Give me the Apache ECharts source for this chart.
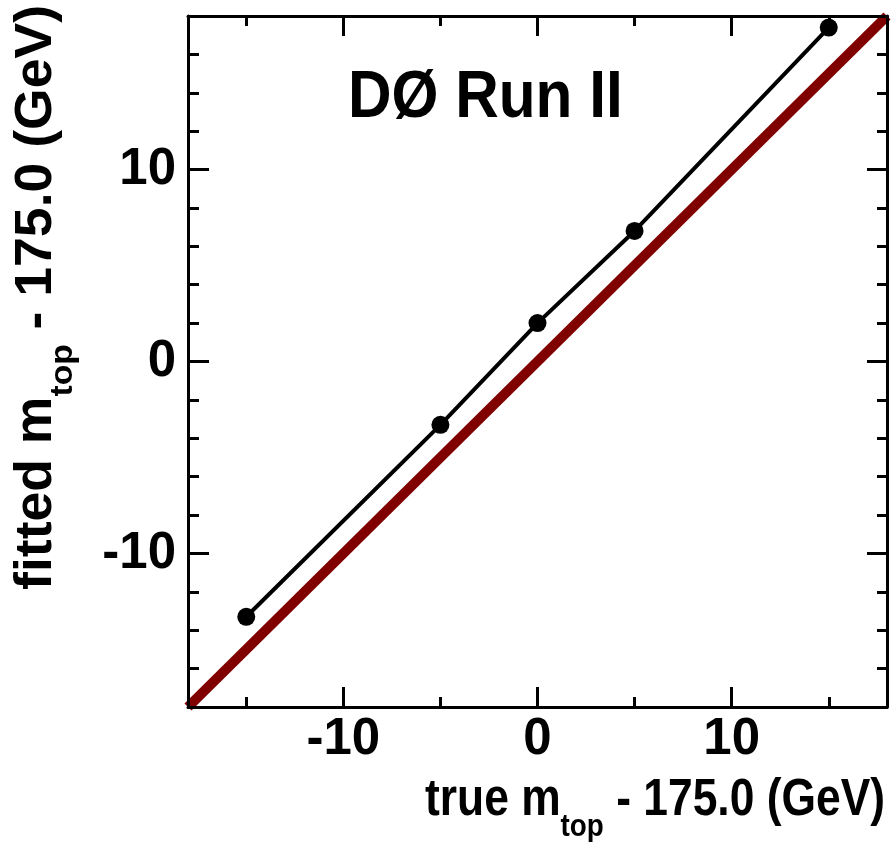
<!DOCTYPE html>
<html>
<head>
<meta charset="utf-8">
<script src="https://cdn.jsdelivr.net/npm/echarts@6/dist/echarts.min.js"></script>
<style>
  html, body { margin: 0; padding: 0; background: #ffffff; }
  #main { width: 892px; height: 842px; }
</style>
</head>
<body>
<div id="main"></div>
<script>
// Generated top-mass points against the mass returned by the fit (GeV, offset by 175.0)
const trueMass   = [-15, -5, 0, 5, 15];
const fittedMass = [-13.3, -3.3, 2.0, 6.8, 17.4];

// Ideal response: fitted == true
const idealLine = [[-18, -18], [18, 18]];

// Axis range and tick positions
const axisMin = -18;
const axisMax = 18;
const majorTicks  = [-10, 0, 10];
const xMinorTicks = [-15, -5, 5, 15];
const yMinorTicks = [-16, -14, -12, -8, -6, -4, -2, 2, 4, 6, 8, 12, 14, 16];

const FONT = '"Liberation Sans", Arial, Helvetica, sans-serif';
const INK = '#000000';

// One axis per tick family so that every side of the frame carries long and short ticks
function axis(kind, position, ticks, tickLen, withLine, withLabels) {
  const a = {
    type: 'value',
    position: position,
    min: axisMin,
    max: axisMax,
    gridIndex: 0,
    splitLine: { show: false },
    axisLine: { show: withLine, onZero: false, lineStyle: { color: INK, width: 3 } },
    axisTick: {
      show: true, inside: true, length: tickLen,
      customValues: ticks,
      lineStyle: { color: INK, width: 3 }
    },
    axisLabel: { show: false },
    z: 5
  };
  if (withLabels) {
    a.axisLabel = {
      show: true,
      customValues: ticks,
      color: INK,
      fontFamily: FONT,
      fontWeight: 'bold',
      fontSize: 51,
      margin: kind === 'x' ? 7 : 12
    };
  }
  return a;
}

const xAxes = [
  axis('x', 'bottom', majorTicks, 20, true, true),
  axis('x', 'bottom', xMinorTicks, 10, false, false),
  axis('x', 'top', majorTicks, 20, true, false),
  axis('x', 'top', xMinorTicks, 10, false, false)
];
const yAxes = [
  axis('y', 'left', majorTicks, 21, true, true),
  axis('y', 'left', yMinorTicks, 11, false, false),
  axis('y', 'right', majorTicks, 20, true, false),
  axis('y', 'right', yMinorTicks, 10, false, false)
];

const fittedPoints = trueMass.map((x, i) => [x, fittedMass[i]]);

const mainText = { fontFamily: FONT, fontWeight: 'bold', fontSize: 51, fill: INK, fontStyle: 'normal' };
const subText  = { fontFamily: FONT, fontWeight: 'bold', fontSize: 32, fill: INK, padding: [52, 0, 0, 0] };

const option = {
  backgroundColor: '#ffffff',
  animation: false,
  grid: { left: 188, right: 5, top: 16, bottom: 135, containLabel: false },
  xAxis: xAxes,
  yAxis: yAxes,
  series: [
    {
      name: 'ideal',
      type: 'line',
      data: idealLine,
      xAxisIndex: 0,
      yAxisIndex: 0,
      showSymbol: false,
      symbol: 'none',
      lineStyle: { color: '#800000', width: 10 },
      z: 3,
      silent: true
    },
    {
      name: 'fitted',
      type: 'line',
      data: fittedPoints,
      xAxisIndex: 0,
      yAxisIndex: 0,
      symbol: 'circle',
      symbolSize: 18,
      itemStyle: { color: INK },
      lineStyle: { color: INK, width: 4 },
      z: 4,
      silent: true
    }
  ],
  graphic: [
    {
      type: 'text',
      x: 348,
      y: 99,
      scaleX: 0.9,
      style: {
        text: 'DØ Run II',
        fontFamily: FONT,
        fontWeight: 'bold',
        fontSize: 67,
        fill: INK,
        align: 'left',
        verticalAlign: 'middle'
      }
    },
    {
      type: 'text',
      x: 885,
      y: 801,
      scaleX: 0.87,
      style: {
        text: '{a|true m}{s|top}{a| - 175.0 (GeV)}',
        rich: { a: mainText, s: subText },
        align: 'right',
        verticalAlign: 'middle'
      }
    },
    {
      type: 'text',
      x: 37,
      y: 5,
      rotation: Math.PI / 2,
      scaleX: 1.05,
      style: {
        text: '{a|fitted m}{s|top}{a| - 175.0 (GeV)}',
        rich: { a: mainText, s: subText },
        align: 'right',
        verticalAlign: 'middle'
      }
    }
  ]
};

const chart = echarts.init(document.getElementById('main'), null, { renderer: 'canvas' });
chart.setOption(option);
</script>
</body>
</html>
